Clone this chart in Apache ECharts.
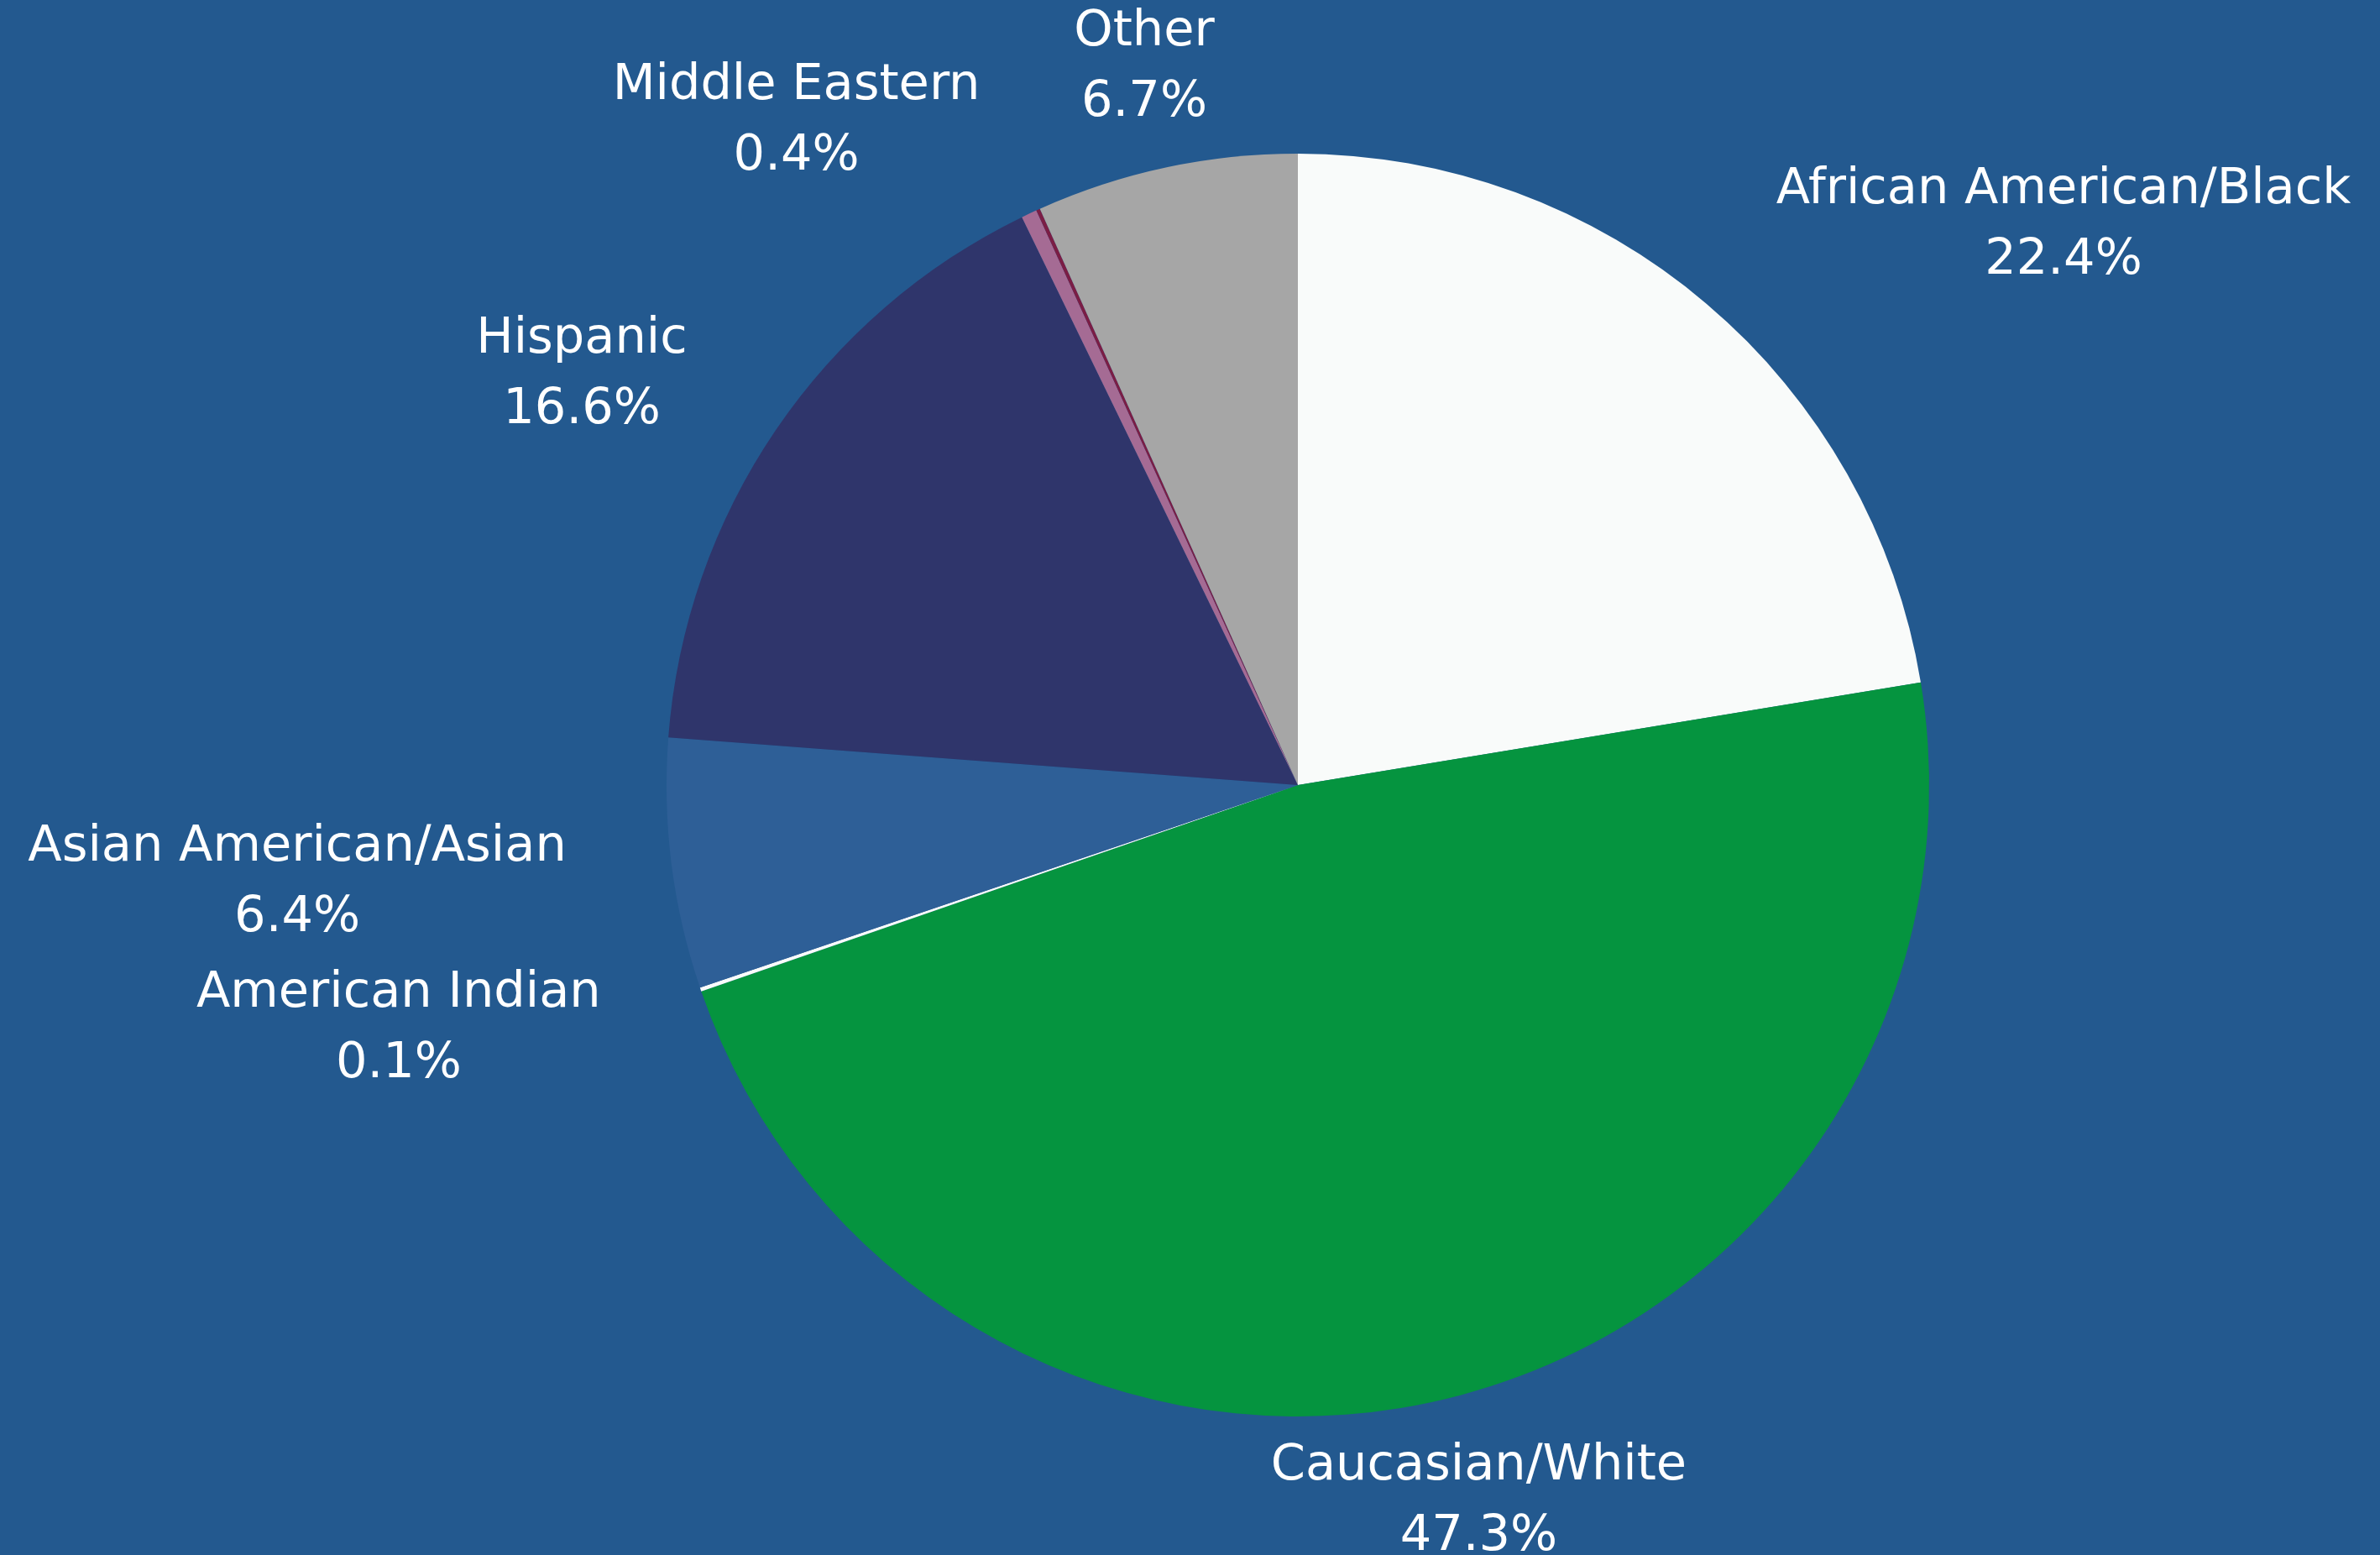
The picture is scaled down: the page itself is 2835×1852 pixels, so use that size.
<!DOCTYPE html>
<html>
<head>
<meta charset="utf-8">
<script src="https://cdn.jsdelivr.net/npm/echarts@6/dist/echarts.min.js"></script>
<style>
html,body{margin:0;padding:0;background:#23598F;}
#chart{width:2835px;height:1852px;}
</style>
</head>
<body>
<div id="chart"></div>
<script>
// ---- data ----
const categories = [
  "African American/Black",
  "Caucasian/White",
  "American Indian",
  "Asian American/Asian",
  "Hispanic",
  "Middle Eastern",
  "Unlabeled",
  "Other"
];
const values = [22.4, 47.3, 0.1, 6.4, 16.6, 0.4, 0.1, 6.7];
const showLabel = [true, true, true, true, true, true, false, true];

// ---- styles ----
const colors = ["#F9FBFA", "#05943F", "#FAFCFB", "#2E5F97", "#2F356B", "#A56B94", "#7B1D45", "#A6A6A6"];
const CX = 1546, CY = 935, R = 752, GAP = 40;
const labelShiftX = [178, -40, -94, -88, -94, -167, 0, 0];
const labelShiftY = [2, 5, 7, 7, 4, 2, 0, 2];

const total = values.reduce((a, b) => a + b, 0);
const midAngles = [];
let acc = 0;
values.forEach(v => { midAngles.push((acc + v / 2) / total * 2 * Math.PI); acc += v; });

const chart = echarts.init(document.getElementById('chart'));
chart.setOption({
  backgroundColor: '#23598F',
  animation: false,
  series: [{
    type: 'pie',
    center: [CX, CY],
    radius: [0, R],
    startAngle: 90,
    clockwise: true,
    avoidLabelOverlap: false,
    itemStyle: { borderWidth: 0 },
    label: {
      show: true,
      position: 'outside',
      color: '#FFFFFF',
      fontFamily: 'DejaVu Sans',
      fontWeight: 'normal',
      fontSize: 59,
      lineHeight: 84,
      align: 'center',
      formatter: p => p.name + '\n' + p.value.toFixed(1) + '%'
    },
    labelLine: { show: false },
    labelLayout: function (params) {
      const i = params.dataIndex;
      const a = midAngles[i];
      const s = Math.sin(a), c = -Math.cos(a);
      const w = params.labelRect.width, h = params.labelRect.height;
      return {
        x: CX + (R + GAP) * s + w / 2 * s + labelShiftX[i],
        y: CY + (R + GAP) * c + h / 2 * c + labelShiftY[i],
        align: 'center',
        verticalAlign: 'middle'
      };
    },
    data: categories.map((name, i) => ({
      name: name,
      value: values[i],
      itemStyle: { color: colors[i] },
      label: { show: showLabel[i] }
    }))
  }]
});
</script>
</body>
</html>
